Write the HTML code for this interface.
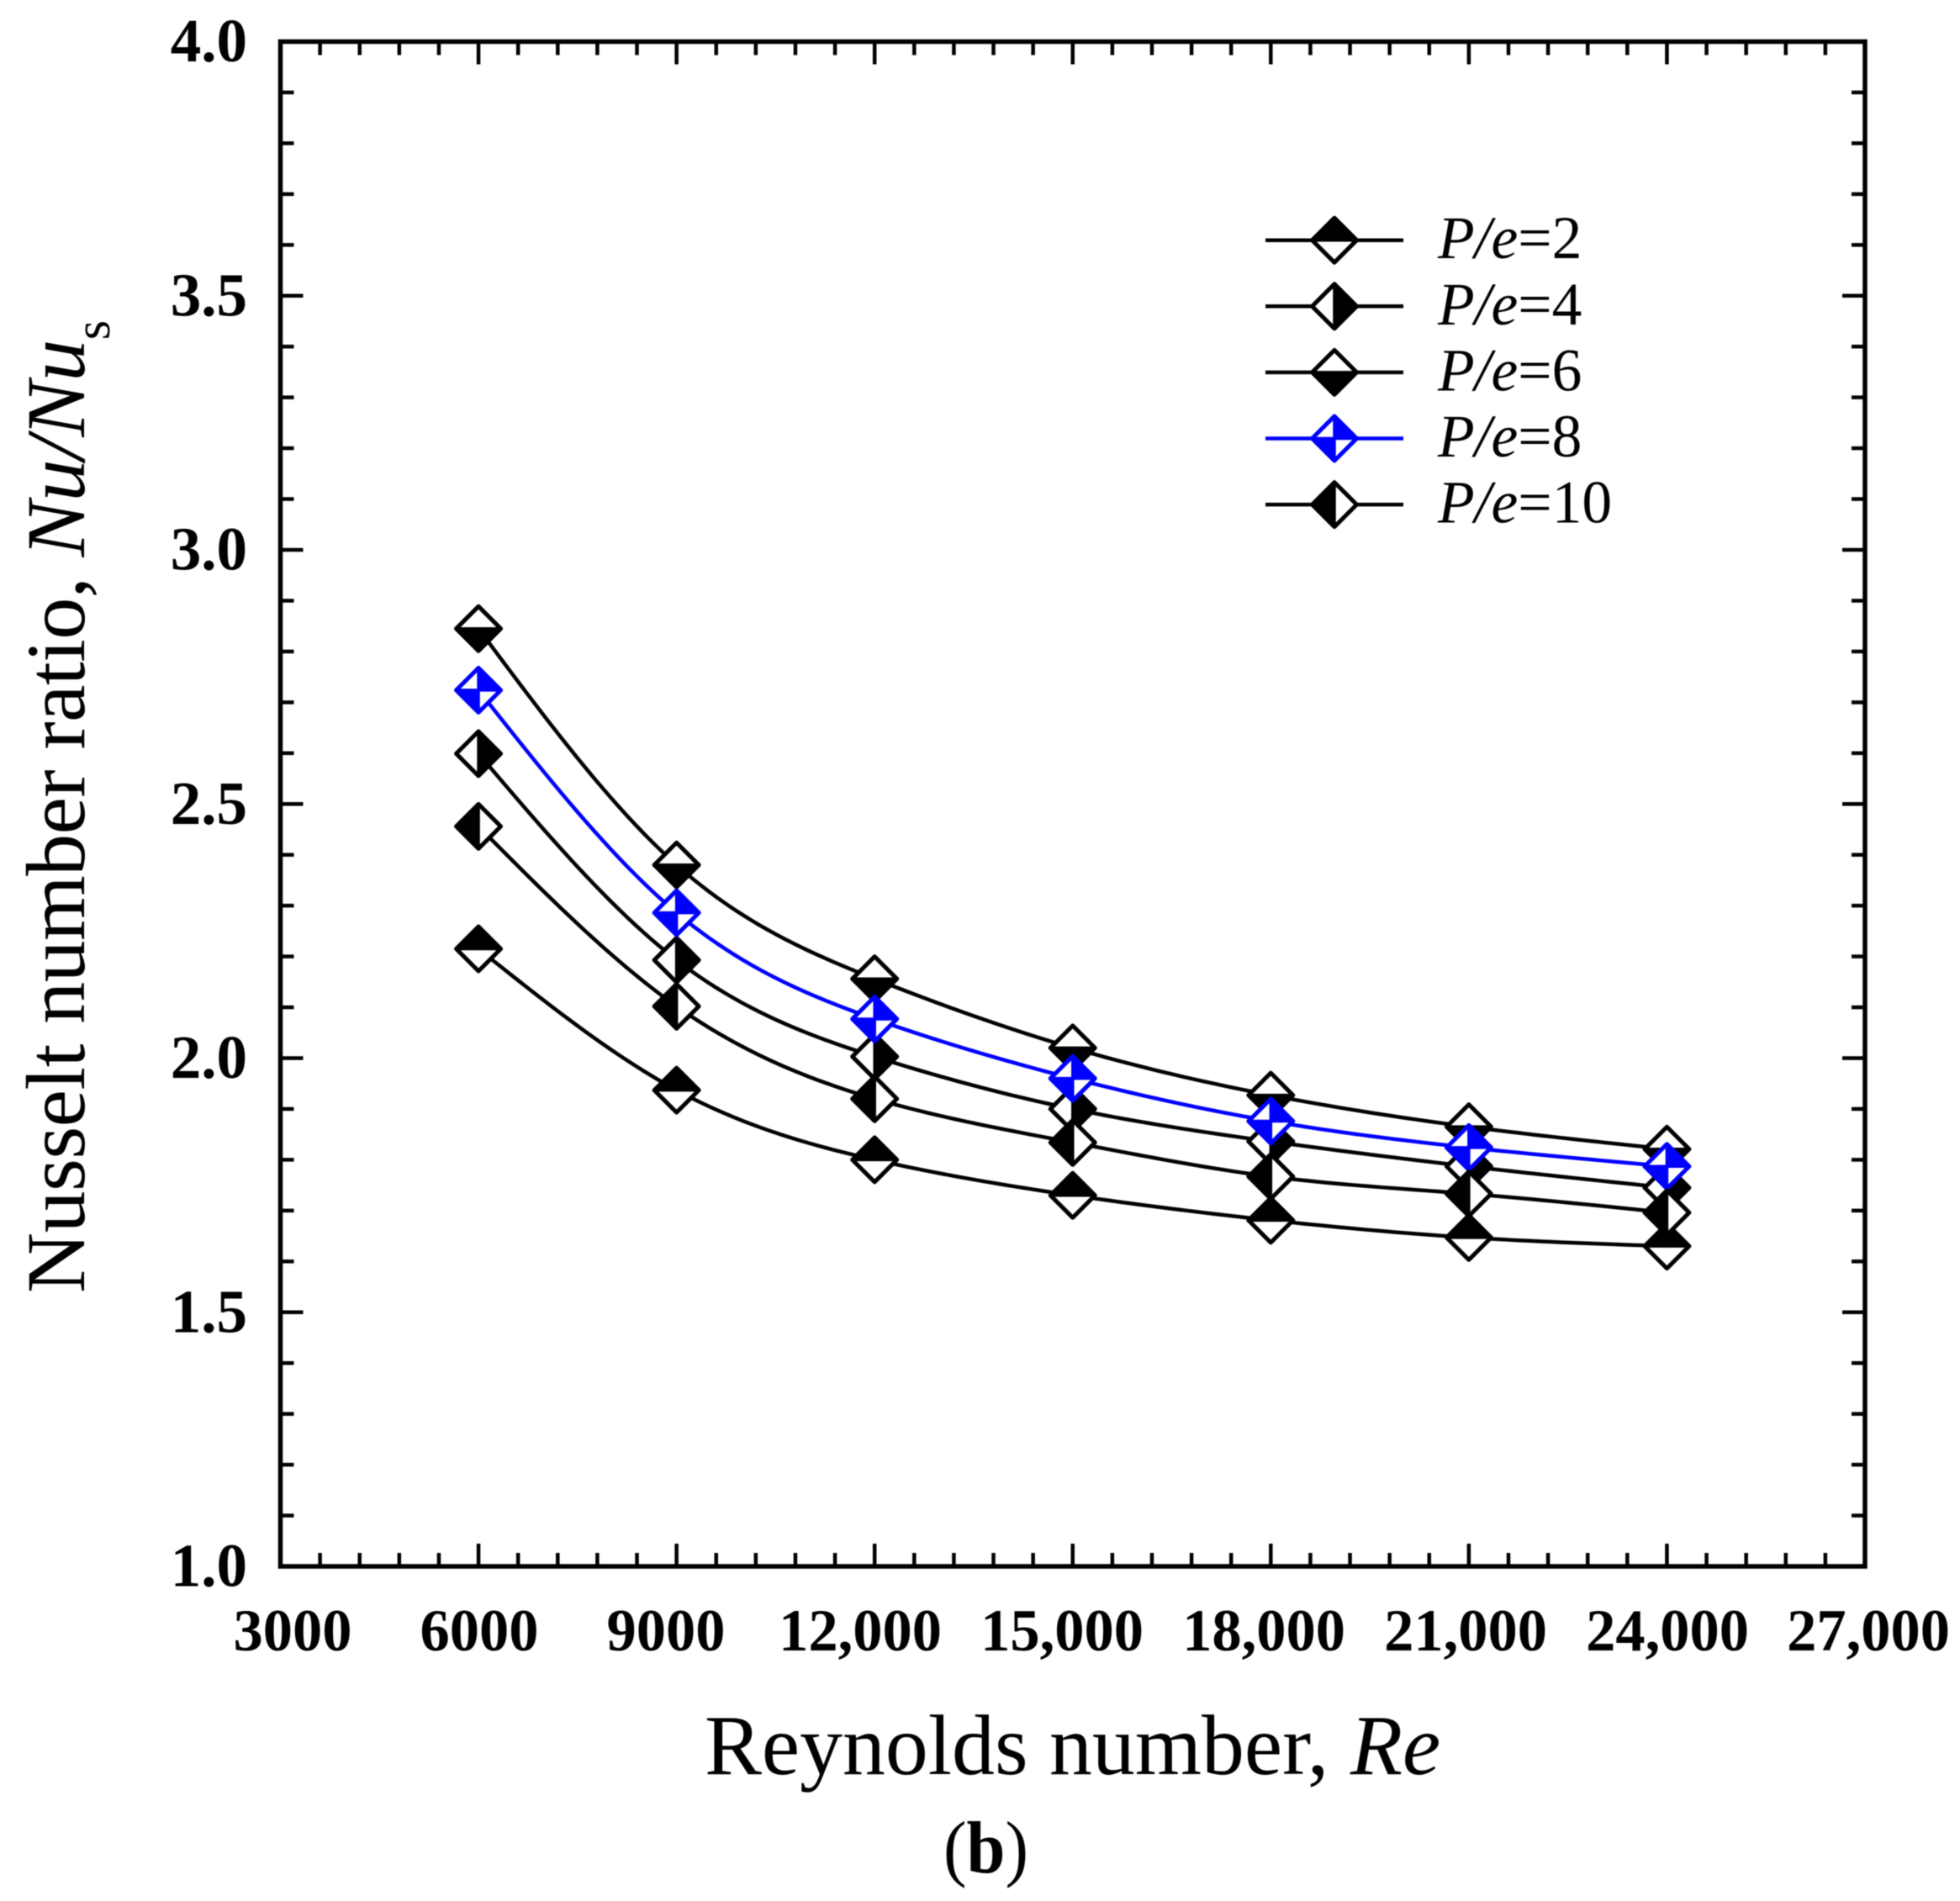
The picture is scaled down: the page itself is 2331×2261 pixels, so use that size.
<!DOCTYPE html>
<html lang="en">
<head>
<meta charset="utf-8">
<title>Nusselt number ratio vs Reynolds number</title>
<style>
  html, body { margin: 0; padding: 0; background: #fff; }
  svg { display: block; filter: blur(0.6px); }
  text { font-family: "Liberation Serif", serif; fill: #000; }
</style>
</head>
<body>
<svg id="chart" xmlns="http://www.w3.org/2000/svg" width="2331" height="2261" viewBox="0 0 2331 2261">
  <rect x="0" y="0" width="2331" height="2261" fill="#fff"/>
  <g id="grid-ticks"></g>
  <g id="series-lines"></g>
  <g id="series-markers"></g>
  <rect id="frame" fill="none" stroke="#000" stroke-width="5.5"/>
  <g id="y-labels" font-weight="bold" font-size="73" text-anchor="end"></g>
  <g font-weight="bold" font-size="70.5" text-anchor="middle">
    <text x="348" y="1963">3000</text>
    <text x="570" y="1963">6000</text>
    <text x="792" y="1963">9000</text>
    <text x="1023" y="1963">12,000</text>
    <text x="1263" y="1963">15,000</text>
    <text x="1503" y="1963">18,000</text>
    <text x="1743" y="1963">21,000</text>
    <text x="1983" y="1963">24,000</text>
    <text x="2222" y="1963">27,000</text>
  </g>
  <text x="838" y="2110" font-size="101.8">Reynolds number, <tspan font-style="italic">Re</tspan></text>
  <text transform="translate(100,1538) rotate(-90)" font-size="100" letter-spacing="-0.6">Nusselt number ratio, <tspan font-style="italic">Nu</tspan><tspan font-style="italic">/</tspan><tspan font-style="italic">Nu</tspan><tspan font-size="60" dy="30">s</tspan></text>
  <text x="1122" y="2227" font-size="88" textLength="101" lengthAdjust="spacingAndGlyphs">(<tspan font-weight="bold">b</tspan>)</text>
  <g id="legend"></g>
</svg>
<script>
// Chart data
const reynolds = [6000, 9000, 12000, 15000, 18000, 21000, 24000];
const nuRatioPe2 = [2.215, 1.937, 1.800, 1.730, 1.681, 1.647, 1.630];
const nuRatioPe4 = [2.599, 2.193, 2.003, 1.900, 1.836, 1.787, 1.745];
const nuRatioPe6 = [2.845, 2.380, 2.156, 2.020, 1.927, 1.865, 1.821];
const nuRatioPe8 = [2.724, 2.286, 2.077, 1.960, 1.876, 1.824, 1.787];
const nuRatioPe10 = [2.456, 2.102, 1.920, 1.834, 1.767, 1.733, 1.696];
const seriesLabels = ['2', '4', '6', '8', '10'];
const seriesColors = ['#000', '#000', '#000', '#00f', '#000'];
const seriesFills = ['top', 'right', 'bottom', 'quarters', 'left'];
const seriesValues = [nuRatioPe2, nuRatioPe4, nuRatioPe6, nuRatioPe8, nuRatioPe10];
const yTickLabels = ['1.0', '1.5', '2.0', '2.5', '3.0', '3.5', '4.0'];
const xMajorTicks = [3000, 6000, 9000, 12000, 15000, 18000, 21000, 24000, 27000];

const SVG_NS = 'http://www.w3.org/2000/svg';
const plot = { left: 333.5, right: 2218, top: 49.5, bottom: 1863 };
const xDomain = [3000, 27000];
const yDomain = [1, 4];
const xScale = v => plot.left + (v - xDomain[0]) / (xDomain[1] - xDomain[0]) * (plot.right - plot.left);
const yScale = v => plot.bottom - (v - yDomain[0]) / (yDomain[1] - yDomain[0]) * (plot.bottom - plot.top);

function make(tag, parent) {
  const el = document.createElementNS(SVG_NS, tag);
  parent.appendChild(el);
  return el;
}
function setAttrs(el, attrs) {
  Object.keys(attrs).forEach(k => el.setAttribute(k, attrs[k]));
}

const frame = document.getElementById('frame');
setAttrs(frame, { x: plot.left, y: plot.top, width: plot.right - plot.left, height: plot.bottom - plot.top });

// Ticks, inward on all four sides
const tickGroup = document.getElementById('grid-ticks');
const MAJOR_LEN = 27, MINOR_LEN = 16;
function tick(x1, y1, x2, y2, name, width) {
  const el = make('line', tickGroup);
  
  
  setAttrs(el, { x1: x1, y1: y1, x2: x2, y2: y2, stroke: '#000', 'stroke-width': width });
}
const xStep = 600;
for (let v = xDomain[0] + xStep; v < xDomain[1]; v += xStep) {
  const major = xMajorTicks.indexOf(v) >= 0;
  const len = major ? MAJOR_LEN : MINOR_LEN;
  const x = xScale(v);
  tick(x, plot.bottom, x, plot.bottom - len, major ? 'x-major-tick' : 'x-minor-tick', 4.5);
  tick(x, plot.top, x, plot.top + len, major ? 'top-major-tick' : 'top-minor-tick', 4.5);
}
for (let i = 1; i < 30; i++) {
  const v = yDomain[0] + i * 0.1;
  const major = i % 5 === 0;
  const len = major ? MAJOR_LEN : MINOR_LEN;
  const y = yScale(v);
  tick(plot.left, y, plot.left + len, y, major ? 'y-major-tick' : 'y-minor-tick', 4.5);
  tick(plot.right, y, plot.right - len, y, major ? 'right-major-tick' : 'right-minor-tick', 4.5);
}

// Y tick labels
const yLabelGroup = document.getElementById('y-labels');
yTickLabels.forEach(function (label) {
  const t = make('text', yLabelGroup);
  
  
  t.setAttribute('x', 294);
  t.setAttribute('y', yScale(parseFloat(label)) + 23.5);
  t.textContent = label;
});

// Natural cubic spline through pixel-space points
function splinePath(xs, ys) {
  const n = xs.length;
  const h = [], a = [], l = [1], mu = [0], z = [0], c = new Array(n).fill(0), b = [], d = [];
  for (let i = 0; i < n - 1; i++) h[i] = xs[i + 1] - xs[i];
  for (let i = 1; i < n - 1; i++) a[i] = 3 / h[i] * (ys[i + 1] - ys[i]) - 3 / h[i - 1] * (ys[i] - ys[i - 1]);
  for (let i = 1; i < n - 1; i++) {
    l[i] = 2 * (xs[i + 1] - xs[i - 1]) - h[i - 1] * mu[i - 1];
    mu[i] = h[i] / l[i];
    z[i] = (a[i] - h[i - 1] * z[i - 1]) / l[i];
  }
  for (let j = n - 2; j >= 0; j--) {
    c[j] = (j === 0 ? 0 : z[j]) - (j === 0 ? 0 : mu[j]) * c[j + 1];
    b[j] = (ys[j + 1] - ys[j]) / h[j] - h[j] * (c[j + 1] + 2 * c[j]) / 3;
    d[j] = (c[j + 1] - c[j]) / (3 * h[j]);
  }
  let path = 'M' + xs[0].toFixed(2) + ' ' + ys[0].toFixed(2);
  for (let i = 0; i < n - 1; i++) {
    for (let s = 1; s <= 24; s++) {
      const dx = h[i] * s / 24;
      const y = ys[i] + b[i] * dx + c[i] * dx * dx + d[i] * dx * dx * dx;
      path += 'L' + (xs[i] + dx).toFixed(2) + ' ' + y.toFixed(2);
    }
  }
  return path;
}

// Half-filled diamond marker
const R = 26.5;
function marker(parent, cx, cy, fillMode, color, name) {
  const g = make('g', parent);
  
  
  const T = (cx) + ',' + (cy - R), B = (cx) + ',' + (cy + R), L = (cx - R) + ',' + cy, Rt = (cx + R) + ',' + cy, C = cx + ',' + cy;
  const base = make('polygon', g);
  setAttrs(base, { points: [T, Rt, B, L].join(' '), fill: '#fff', stroke: color, 'stroke-width': 5, 'stroke-linejoin': 'round' });
  const regions = {
    top: [[L, T, Rt]],
    bottom: [[L, B, Rt]],
    left: [[T, L, B]],
    right: [[T, Rt, B]],
    quarters: [[C, T, Rt], [C, B, L]]
  };
  regions[fillMode].forEach(function (pts) {
    const p = make('polygon', g);
    setAttrs(p, { points: pts.join(' '), fill: color, stroke: color, 'stroke-width': 3.5, 'stroke-linejoin': 'round' });
  });
}

// Series
const lineGroup = document.getElementById('series-lines');
const markerGroup = document.getElementById('series-markers');
const xPixels = reynolds.map(xScale);
seriesValues.forEach(function (values, i) {
  const path = make('path', lineGroup);
  
  
  setAttrs(path, { d: splinePath(xPixels, values.map(yScale)), fill: 'none', stroke: seriesColors[i], 'stroke-width': 4.5 });
});
seriesValues.forEach(function (values, i) {
  values.forEach(function (v, j) {
    marker(markerGroup, xScale(reynolds[j]), yScale(v), seriesFills[i], seriesColors[i], 'point-pe-' + seriesLabels[i] + '-re-' + reynolds[j]);
  });
});

// Legend
const legend = document.getElementById('legend');
seriesLabels.forEach(function (label, i) {
  const y = 285.7 + i * 78.6;
  const entry = make('g', legend);
  
  
  const line = make('line', entry);
  
  
  setAttrs(line, { x1: 1505, y1: y, x2: 1669, y2: y, stroke: seriesColors[i], 'stroke-width': 4.5 });
  marker(entry, 1587, y, seriesFills[i], seriesColors[i], 'legend-marker');
  const t = make('text', entry);
  
  
  setAttrs(t, { x: 1710, y: y + 21.5, 'font-size': 71.5 });
  const it = make('tspan', t);
  it.setAttribute('font-style', 'italic');
  it.textContent = 'P/e';
  const rest = make('tspan', t);
  rest.textContent = '=' + label;
});
</script>
</body>
</html>
